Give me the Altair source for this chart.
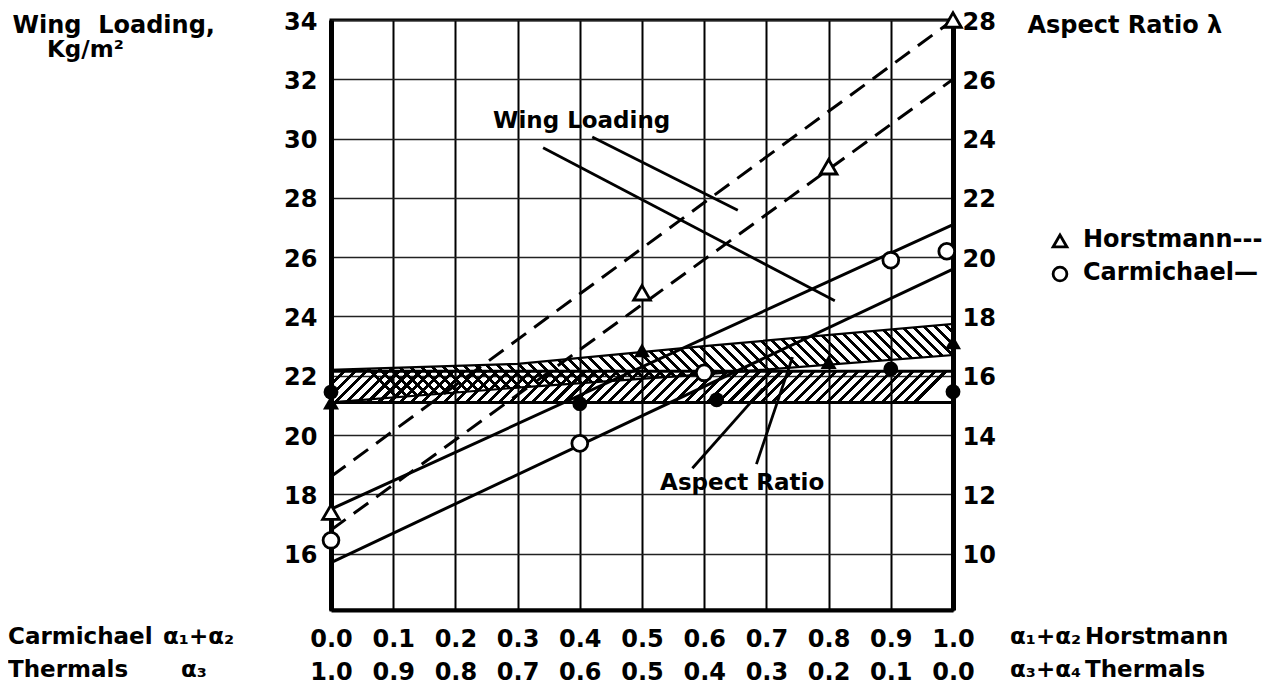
import json
import altair as alt
import pandas as pd

FONT = "DejaVu Sans"

# ---------------- axes / tick labels ----------------
x_ticks = [0.0, 0.1, 0.2, 0.3, 0.4, 0.5, 0.6, 0.7, 0.8, 0.9, 1.0]
carm_labels = ["0.0", "0.1", "0.2", "0.3", "0.4", "0.5", "0.6", "0.7", "0.8", "0.9", "1.0"]
therm_labels = ["1.0", "0.9", "0.8", "0.7", "0.6", "0.5", "0.4", "0.3", "0.2", "0.1", "0.0"]
wl_ticks = [16, 18, 20, 22, 24, 26, 28, 30, 32, 34]
ar_ticks = [10, 12, 14, 16, 18, 20, 22, 24, 26, 28]
wl_domain = [14.1, 34.0]
ar_domain = [8.1, 28.0]

# ---------------- wing loading lines (kg/m2) ----------------
line_x = [0.0, 1.0]
horst_wl_line_a = [18.6, 34.0]
horst_wl_line_b = [16.8, 32.0]
carm_wl_line_a = [17.5, 27.1]
carm_wl_line_b = [15.7, 25.6]

# ---------------- wing loading points (kg/m2) ----------------
horst_wl_x = [0.0, 0.5, 0.8, 1.0]
horst_wl_y = [17.4, 24.8, 29.05, 34.0]
carm_wl_x = [0.0, 0.4, 0.6, 0.9, 0.99]
carm_wl_y = [16.45, 19.72, 22.1, 25.9, 26.2]

# ---------------- aspect ratio points (lambda) ----------------
horst_ar_x = [0.0, 0.5, 0.8, 1.0]
horst_ar_y = [15.1, 16.86, 16.46, 17.13]
carm_ar_x = [0.0, 0.4, 0.62, 0.9, 1.0]
carm_ar_y = [15.45, 15.06, 15.19, 16.23, 15.46]

# ---------------- aspect ratio bands (lambda) ----------------
band_x = [0.0, 0.3, 0.6, 1.0]
carm_band_lo = [15.1, 15.1, 15.1, 15.1]
carm_band_hi = [16.15, 16.15, 16.15, 16.15]
horst_band_lo = [15.1, 15.6, 16.05, 16.7]
horst_band_hi = [16.2, 16.4, 17.0, 17.75]

# ---------------- annotations (kg/m2 units) ----------------
wl_note = ["Wing Loading"]
wl_note_x = [0.403]
wl_note_y = [30.6]
wl_leader_x = [0.420, 0.341]
wl_leader_x2 = [0.654, 0.810]
wl_leader_y = [30.05, 29.69]
wl_leader_y2 = [27.58, 24.53]

ar_note = ["Aspect Ratio"]
ar_note_x = [0.661]
ar_note_y = [18.38]
ar_leader_x = [0.581, 0.684]
ar_leader_x2 = [0.694, 0.742]
ar_leader_y = [18.88, 19.02]
ar_leader_y2 = [21.56, 22.63]

legend_names = ["Horstmann---", "Carmichael\u2014"]
legend_shapes = ["triangle-up", "circle"]

PLOT_W, PLOT_H = 622, 590

# ================= encodings =================
label_expr = "[{0}[round(datum.value*10)], {1}[round(datum.value*10)]]".format(
    json.dumps(carm_labels), json.dumps(therm_labels))

X_AXIS = alt.Axis(values=x_ticks, grid=True, gridColor="black", gridWidth=2,
                  ticks=False, domainColor="black", domainWidth=4,
                  labelExpr=label_expr, labelLineHeight=33, labelPadding=17,
                  labelBaseline="top", labelFontSize=24, labelFontWeight="bold",
                  labelOverlap=False, labelFlush=False, labelBound=False, title=None)


def X(field="x"):
    return alt.X(f"{field}:Q", scale=alt.Scale(domain=[0, 1], nice=False, zero=False), axis=X_AXIS)


LEFT_AXIS = alt.Axis(orient="left", values=wl_ticks, grid=True, gridColor="#222",
                     gridWidth=1.5, ticks=False, domainColor="black", domainWidth=5,
                     labelPadding=14, labelFontSize=24, labelFontWeight="bold", labelOffset=2,
                     title="Wing\u00a0\u00a0Loading,",
                     titleAngle=0, titleAlign="left", titleBaseline="alphabetic",
                     titleX=-319, titleY=12, titleFontSize=24, titleFontWeight="bold")

RIGHT_AXIS = alt.Axis(orient="right", values=ar_ticks, grid=False, ticks=False,
                      domainColor="black", domainWidth=5, labelPadding=9,
                      labelFontSize=24, labelFontWeight="bold", labelOffset=2,
                      title="Aspect Ratio \u03bb", titleAngle=0, titleAlign="left",
                      titleBaseline="alphabetic", titleX=74, titleY=12,
                      titleFontSize=24, titleFontWeight="bold")


def YL(field="y"):
    return alt.Y(f"{field}:Q", scale=alt.Scale(domain=wl_domain, nice=False, zero=False), axis=LEFT_AXIS)


def YR(field="y"):
    return alt.Y(f"{field}:Q", scale=alt.Scale(domain=ar_domain, nice=False, zero=False), axis=RIGHT_AXIS)


def hatch(n, frac, r, backslash):
    clear = "rgba(0,0,0,0)"
    stops = []
    for k in range(n):
        a = k / n
        b = (k + frac) / n
        stops += [alt.GradientStop(color=clear, offset=a), alt.GradientStop(color="black", offset=a),
                  alt.GradientStop(color="black", offset=b), alt.GradientStop(color=clear, offset=b)]
    stops.append(alt.GradientStop(color=clear, offset=1))
    if backslash:
        return alt.LinearGradient(gradient="linear", stops=stops, x1=0, y1=r, x2=1, y2=0)
    return alt.LinearGradient(gradient="linear", stops=stops, x1=0, y1=0, x2=1, y2=r)


# ================= right (lambda) group =================
carm_band_df = pd.DataFrame({"x": band_x, "y": carm_band_lo, "y2": carm_band_hi})
horst_band_df = pd.DataFrame({"x": band_x, "y": horst_band_lo, "y2": horst_band_hi})

px_per_unit = PLOT_H / (wl_domain[1] - wl_domain[0])
r_carm = (max(carm_band_hi) - min(carm_band_lo)) * px_per_unit / PLOT_W
r_horst = (max(horst_band_hi) - min(horst_band_lo)) * px_per_unit / PLOT_W

carm_band = alt.Chart(carm_band_df).mark_area(
    fill=hatch(57, 0.38, r_carm, False), stroke="black", strokeWidth=3
).encode(x=X(), y=YR(), y2="y2:Q")

horst_band = alt.Chart(horst_band_df).mark_area(
    fill=hatch(57, 0.36, r_horst, True), stroke="black", strokeWidth=2.2
).encode(x=X(), y=YR(), y2="y2:Q")

horst_ar = alt.Chart(pd.DataFrame({"x": horst_ar_x, "y": horst_ar_y})).mark_point(
    shape="triangle-up", filled=True, color="black", size=260, opacity=1
).encode(x=X(), y=YR())

carm_ar = alt.Chart(pd.DataFrame({"x": carm_ar_x, "y": carm_ar_y})).mark_point(
    shape="circle", filled=True, color="black", size=220, opacity=1
).encode(x=X(), y=YR())

right_group = alt.layer(carm_band, horst_band, horst_ar, carm_ar)

# ================= left (wing loading) group =================
dash_df = pd.DataFrame({
    "x": line_x * 2,
    "y": horst_wl_line_a + horst_wl_line_b,
    "s": ["a", "a", "b", "b"],
})
solid_df = pd.DataFrame({
    "x": line_x * 2,
    "y": carm_wl_line_a + carm_wl_line_b,
    "s": ["a", "a", "b", "b"],
})
dash_lines = alt.Chart(dash_df).mark_line(color="black", strokeWidth=3, strokeDash=[18, 10]).encode(
    x=X(), y=YL(), detail="s:N")
solid_lines = alt.Chart(solid_df).mark_line(color="black", strokeWidth=3).encode(
    x=X(), y=YL(), detail="s:N")

leader_df = pd.DataFrame({
    "x": wl_leader_x + ar_leader_x,
    "x2": wl_leader_x2 + ar_leader_x2,
    "y": wl_leader_y + ar_leader_y,
    "y2": wl_leader_y2 + ar_leader_y2,
})
leaders = alt.Chart(leader_df).mark_rule(color="black", strokeWidth=2.8).encode(
    x=X(), x2="x2:Q", y=YL(), y2="y2:Q")

notes_df = pd.DataFrame({
    "x": wl_note_x + ar_note_x,
    "y": wl_note_y + ar_note_y,
    "t": wl_note + ar_note,
})
notes = alt.Chart(notes_df).mark_text(
    font=FONT, fontSize=23, fontWeight="bold", color="black", align="center", baseline="middle"
).encode(x=X(), y=YL(), text="t:N")

horst_open = alt.Chart(pd.DataFrame({"x": horst_wl_x, "y": horst_wl_y})).mark_point(
    shape="triangle-up", filled=False, fill="white", fillOpacity=1, color="black",
    strokeWidth=2.8, size=280, opacity=1
).encode(x=X(), y=YL())
carm_open = alt.Chart(pd.DataFrame({"x": carm_wl_x, "y": carm_wl_y})).mark_point(
    shape="circle", filled=False, fill="white", fillOpacity=1, color="black",
    strokeWidth=2.8, size=250, opacity=1
).encode(x=X(), y=YL())

left_group = alt.layer(dash_lines, solid_lines, leaders, notes, horst_open, carm_open)


# ================= side texts / legend =================
def side_text(txt, px, py, size=23, baseline="middle"):
    return alt.Chart(pd.DataFrame({"t": [txt]})).mark_text(
        font=FONT, fontSize=size, fontWeight="bold", color="black", align="left", baseline=baseline
    ).encode(x=alt.value(px), y=alt.value(py), text="t:N")


def legend_symbol(shape, px, py):
    return alt.Chart(pd.DataFrame({"s": [shape]})).mark_point(
        shape=shape, filled=False, fill="white", fillOpacity=1, color="black",
        strokeWidth=2.8, size=190, opacity=1
    ).encode(x=alt.value(px), y=alt.value(py))


side = [
    side_text("Kg/m\u00b2", -284, 37, size=23, baseline="alphabetic"),
    side_text("Carmichael", -323, 617),
    side_text("Thermals", -323, 650),
    side_text("\u03b1\u2081+\u03b1\u2082", -168, 617),
    side_text("\u03b1\u2083", -150, 650),
    side_text("\u03b1\u2081+\u03b1\u2082", 679, 617),
    side_text("\u03b1\u2083+\u03b1\u2084", 679, 650),
    side_text("Horstmann", 754, 617),
    side_text("Thermals", 754, 650),
    legend_symbol(legend_shapes[0], 729, 221),
    legend_symbol(legend_shapes[1], 729, 254),
    side_text(legend_names[0], 752, 220, size=24),
    side_text(legend_names[1], 752, 253, size=24),
]

chart = alt.layer(right_group, left_group, *side).resolve_scale(y="independent").properties(
    width=PLOT_W, height=PLOT_H,
    autosize=alt.AutoSizeParams(type="none"),
    padding={"left": 323, "top": 12, "right": 321, "bottom": 87},
    background="white",
).configure_view(stroke="black", strokeWidth=3).configure_axis(
    labelFont=FONT, titleFont=FONT, labelColor="black", titleColor="black"
)

chart.save("out.html", embed_options={"renderer": "svg", "actions": False})
